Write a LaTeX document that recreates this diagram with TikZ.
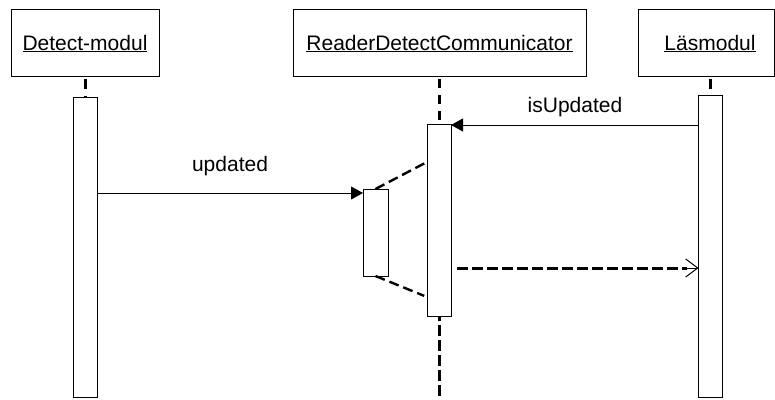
\documentclass[tikz,border=0pt]{standalone}
\usepackage{fontspec}
\setmainfont{Liberation Sans}
\usetikzlibrary{arrows.meta,calc}

\tikzset{
  objbox/.style={draw, line width=1pt, inner sep=0pt, outer sep=0pt,
    text height=15pt, text depth=0pt, font=\fontsize{21}{25}\selectfont},
  actbox/.style={draw, fill=white, line width=1pt, inner sep=0pt, outer sep=0pt, anchor=north},
  msglabel/.style={anchor=base, inner sep=0pt, font=\fontsize{21}{25}\selectfont},
  lifeline/.style={line width=3pt},
  callmsg/.style={line width=1pt, -{Triangle[length=12pt,width=13pt]}},
  linkline/.style={line width=2.4pt, dash pattern=on 10pt off 5pt},
  retline/.style={line width=3pt, dash pattern=on 10.5pt off 4.5pt},
  rettip/.style={line width=1pt, -{Straight Barb[length=12pt,width=18pt,line width=1pt]}}
}

\begin{document}
\begin{tikzpicture}[x=1pt, y=-1pt]
  \useasboundingbox (0,0) rectangle (775,399);

  % object heads
  \node[objbox, minimum width=148pt, minimum height=67pt] (dm) at (85,42.5) {\underline{Detect-modul}};
  \node[objbox, minimum width=293pt, minimum height=67pt] (rdc) at (439.5,42.5) {\underline{ReaderDetectCommunicator}};
  \node[objbox, minimum width=136pt, minimum height=67pt] (ls) at (706,42.5) {\hspace*{8pt}\underline{Läsmodul}};

  % lifelines
  \coordinate (rdcend) at (439,399);
  \draw[lifeline, dash pattern=on 10pt off 7pt, dash phase=14pt] (dm.south) -- (85,97);
  \draw[lifeline, dash pattern=on 10pt off 7pt, dash phase=14pt] (ls.south -| 710.25,0) -- (710.25,95);
  \draw[lifeline, dash pattern=on 9pt off 7pt, dash phase=13pt] (rdc.south -| 439,0) -- (439,124);
  \draw[lifeline, dash pattern=on 11pt off 4pt, dash phase=6pt] (439,316) -- (rdcend);

  % activation bars
  \node[actbox, minimum width=24pt, minimum height=300pt] (da) at (85,97) {};
  \node[actbox, minimum width=24pt, minimum height=192pt] (rb) at (439,124) {};
  \node[actbox, minimum width=25pt, minimum height=87pt] (rs) at (375.5,189) {};
  \node[actbox, minimum width=23.5pt, minimum height=302pt] (la) at (710.25,95) {};

  % messages
  \draw[callmsg] (da.east |- 0,193) -- (rs.west |- 0,193);
  \node[msglabel] (lupd) at (230,171) {updated};

  \draw[callmsg] (la.west |- 0,125) -- (rb.east |- 0,125);
  \node[msglabel] (lisu) at (575,112) {isUpdated};

  % nested activation links
  \draw[linkline] (rs.north) -- (rb.west |- 0,162);
  \draw[linkline, shorten >=3pt] (rs.south) -- (rb.west |- 0,297);

  % return
  \draw[retline, shorten <=6pt, shorten >=12pt] (rb.east |- 0,268) -- (la.west |- 0,268);
  \draw[rettip] ($(la.west |- 0,268)+(-15,0)$) -- (la.west |- 0,268);
\end{tikzpicture}
\end{document}
